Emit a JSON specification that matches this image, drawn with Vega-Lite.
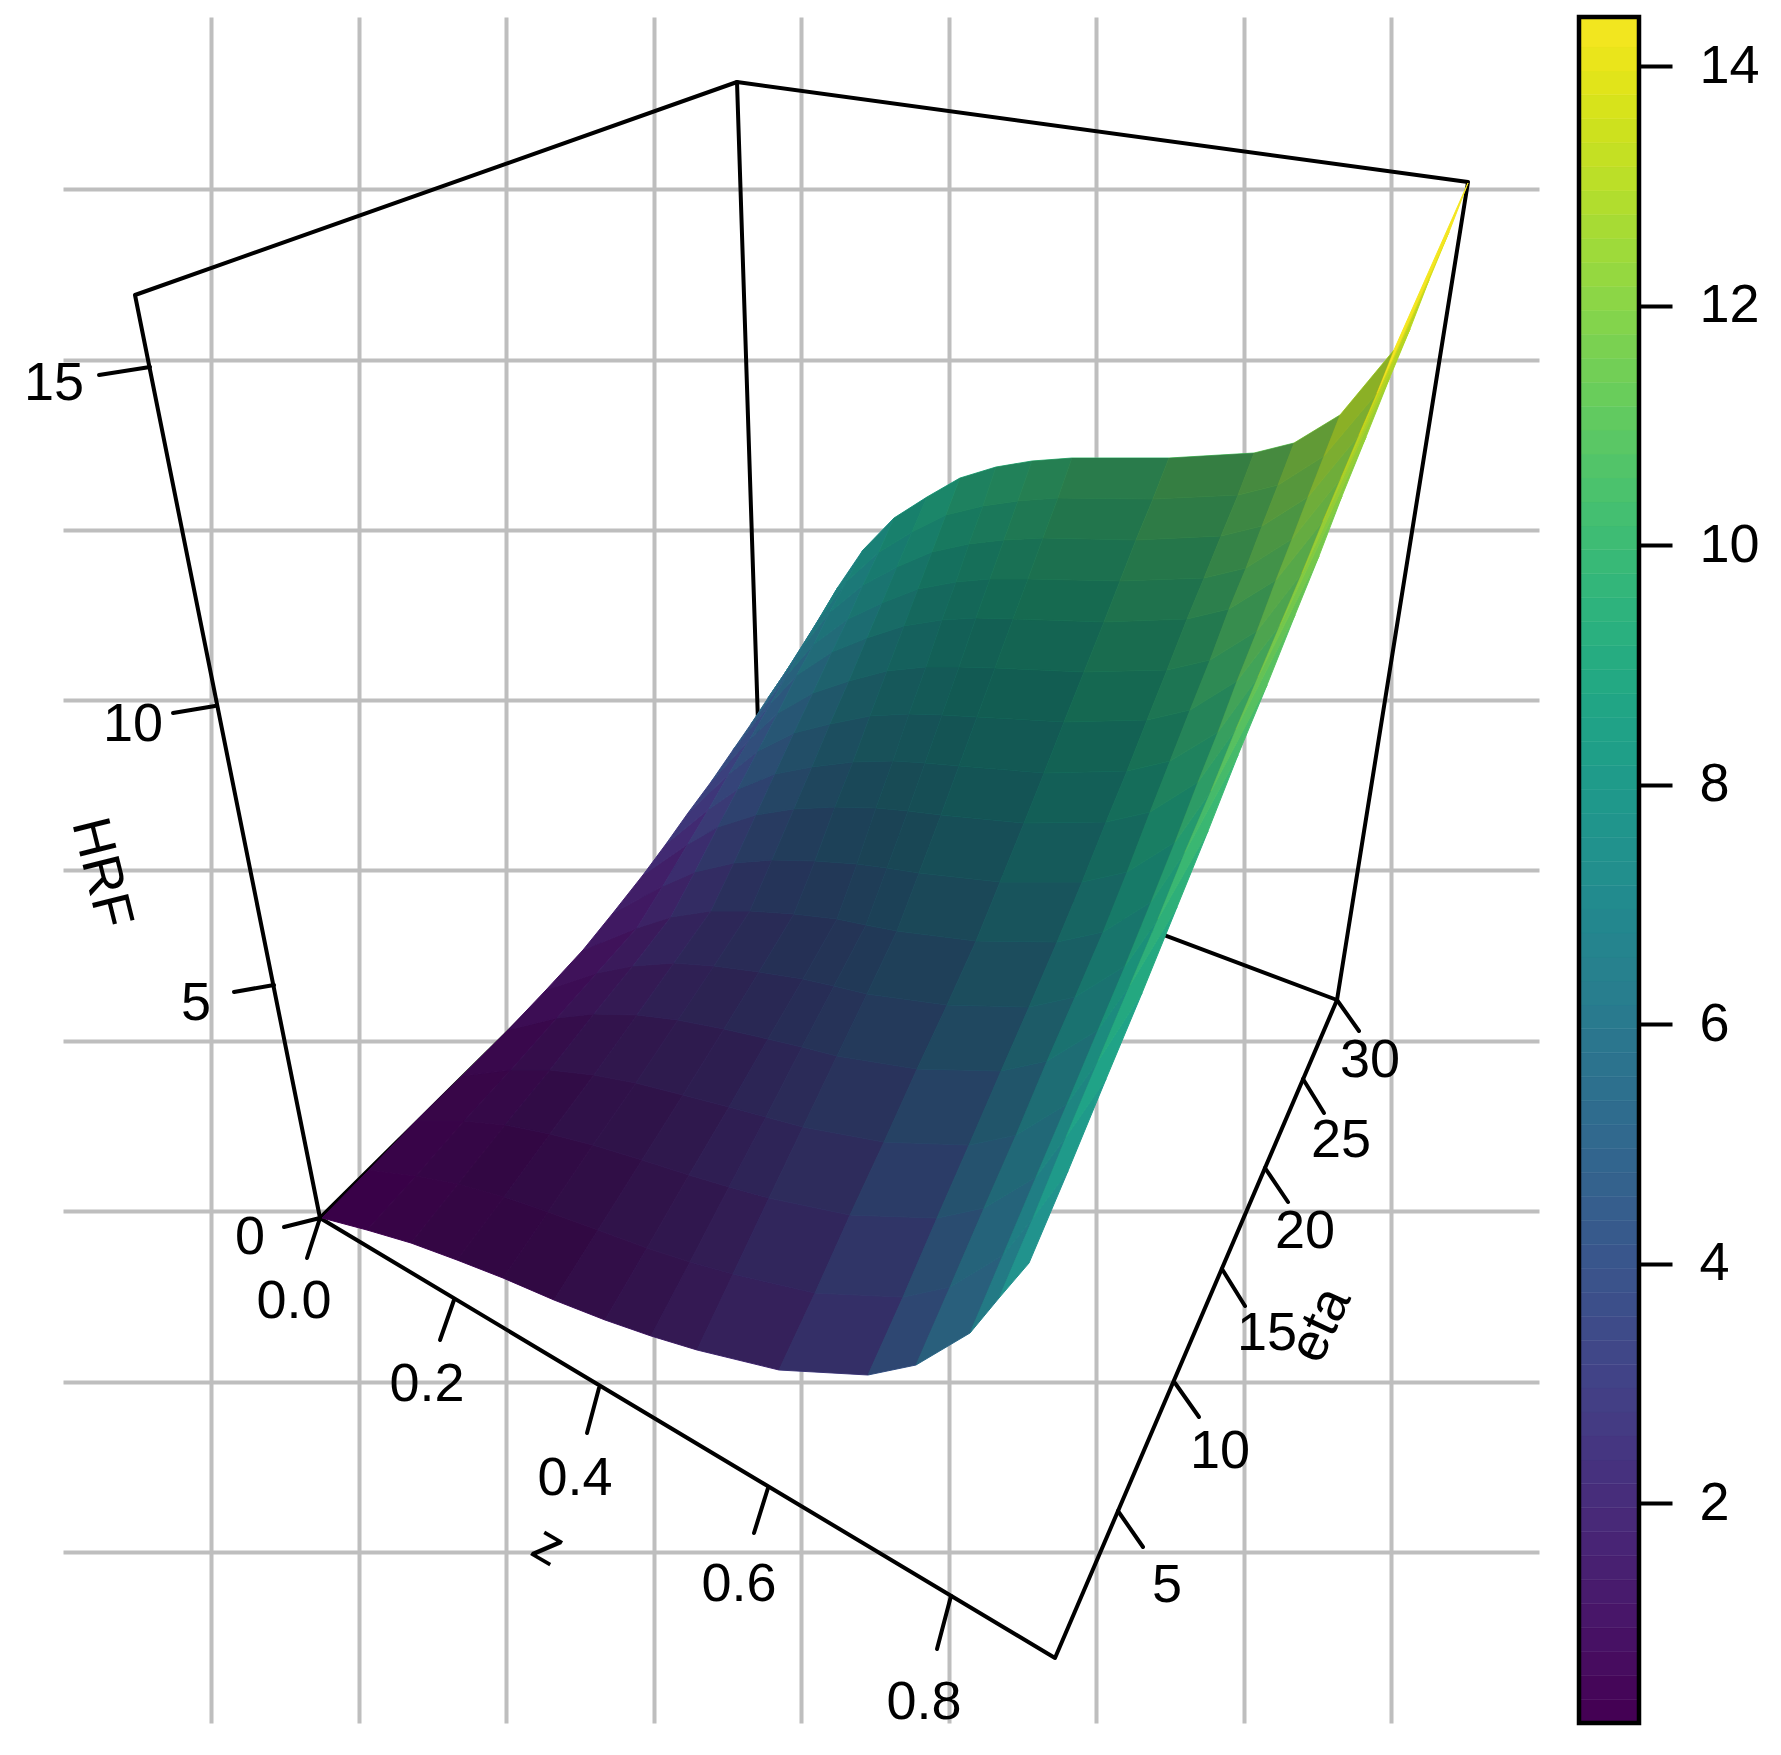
{"$schema":"https://vega.github.io/schema/vega-lite/v6.json","background":"white","padding":{"left":23,"top":14,"right":5,"bottom":5},"bounds":"flush","spacing":40,
"config":{"view":{"stroke":null}},
"datasets":{"quads":[
{"q":0,"h":0.2,"s":0.15,"x":[323,368,417,370],"y":[1218,1230,1176,1170]},
{"q":1,"h":0.3,"s":0.18,"x":[370,417,465,417],"y":[1170,1176,1121,1121]},
{"q":2,"h":0.4,"s":0.2,"x":[417,465,512,463],"y":[1121,1121,1070,1076]},
{"q":3,"h":0.5,"s":0.18,"x":[463,512,558,509],"y":[1076,1070,1018,1030]},
{"q":4,"h":0.7,"s":0.15,"x":[509,558,598,547],"y":[1030,1018,973,990]},
{"q":5,"h":0.9,"s":0.12,"x":[547,598,638,584],"y":[990,973,928,950]},
{"q":6,"h":1.2,"s":0.1,"x":[584,638,664,614],"y":[950,928,886,913]},
{"q":7,"h":1.5,"s":0.09,"x":[614,664,689,644],"y":[913,886,844,875]},
{"q":8,"h":2,"s":0.08,"x":[644,689,710,667],"y":[875,844,809,844]},
{"q":9,"h":2.6,"s":0.08,"x":[667,710,730,689],"y":[844,809,774,813]},
{"q":10,"h":3.1,"s":0.08,"x":[689,730,751,712],"y":[813,774,739,782]},
{"q":11,"h":3.7,"s":0.08,"x":[712,751,772,734],"y":[782,739,703,750]},
{"q":12,"h":4.3,"s":0.08,"x":[734,772,789,752],"y":[750,703,674,724]},
{"q":13,"h":5,"s":0.08,"x":[752,789,805,769],"y":[724,674,645,698]},
{"q":14,"h":5.6,"s":0.08,"x":[769,805,822,786],"y":[698,645,616,673]},
{"q":15,"h":6.2,"s":0.08,"x":[786,822,839,803],"y":[673,616,587,647]},
{"q":16,"h":0.3,"s":0.2,"x":[368,412,459,417],"y":[1230,1243,1184,1176]},
{"q":17,"h":0.4,"s":0.23,"x":[417,459,506,465],"y":[1176,1184,1125,1121]},
{"q":18,"h":0.6,"s":0.25,"x":[465,506,551,512],"y":[1121,1125,1070,1070]},
{"q":19,"h":0.8,"s":0.25,"x":[512,551,595,558],"y":[1070,1070,1014,1018]},
{"q":20,"h":1.1,"s":0.22,"x":[558,595,634,598],"y":[1018,1014,966,973]},
{"q":21,"h":1.4,"s":0.19,"x":[598,634,672,638],"y":[973,966,917,928]},
{"q":22,"h":1.8,"s":0.16,"x":[638,672,696,664],"y":[928,917,872,886]},
{"q":23,"h":2.3,"s":0.14,"x":[664,696,719,689],"y":[886,872,827,844]},
{"q":24,"h":2.9,"s":0.12,"x":[689,719,739,710],"y":[844,827,789,809]},
{"q":25,"h":3.5,"s":0.12,"x":[710,739,759,730],"y":[809,789,751,774]},
{"q":26,"h":4.1,"s":0.12,"x":[730,759,779,751],"y":[774,751,713,739]},
{"q":27,"h":4.7,"s":0.12,"x":[751,779,798,772],"y":[739,713,675,703]},
{"q":28,"h":5.3,"s":0.12,"x":[772,798,815,789],"y":[703,675,644,674]},
{"q":29,"h":6,"s":0.12,"x":[789,815,831,805],"y":[674,644,612,645]},
{"q":30,"h":6.6,"s":0.12,"x":[805,831,848,822],"y":[645,612,581,616]},
{"q":31,"h":7.2,"s":0.12,"x":[822,848,864,839],"y":[616,581,550,587]},
{"q":32,"h":0.4,"s":0.25,"x":[412,458,505,459],"y":[1243,1260,1197,1184]},
{"q":33,"h":0.5,"s":0.28,"x":[459,505,551,506],"y":[1184,1197,1134,1125]},
{"q":34,"h":0.8,"s":0.3,"x":[506,551,595,551],"y":[1125,1134,1075,1070]},
{"q":35,"h":1.2,"s":0.3,"x":[551,595,638,595],"y":[1070,1075,1015,1014]},
{"q":36,"h":1.6,"s":0.28,"x":[595,638,675,634],"y":[1014,1015,963,966]},
{"q":37,"h":2.1,"s":0.27,"x":[634,675,712,672],"y":[966,963,911,917]},
{"q":38,"h":2.6,"s":0.25,"x":[672,712,735,696],"y":[917,911,863,872]},
{"q":39,"h":3.2,"s":0.23,"x":[696,735,757,719],"y":[872,863,815,827]},
{"q":40,"h":3.8,"s":0.2,"x":[719,757,776,739],"y":[827,815,774,789]},
{"q":41,"h":4.4,"s":0.19,"x":[739,776,795,759],"y":[789,774,733,751]},
{"q":42,"h":5,"s":0.18,"x":[759,795,814,779],"y":[751,733,693,713]},
{"q":43,"h":5.6,"s":0.17,"x":[779,814,833,798],"y":[713,693,652,675]},
{"q":44,"h":6.2,"s":0.15,"x":[798,833,849,815],"y":[675,652,619,644]},
{"q":45,"h":6.7,"s":0.15,"x":[815,849,864,831],"y":[644,619,585,612]},
{"q":46,"h":7.2,"s":0.15,"x":[831,864,880,848],"y":[612,585,552,581]},
{"q":47,"h":7.7,"s":0.15,"x":[848,880,895,864],"y":[581,552,518,550]},
{"q":48,"h":0.5,"s":0.28,"x":[458,504,549,505],"y":[1260,1278,1212,1197]},
{"q":49,"h":0.7,"s":0.3,"x":[505,549,594,551],"y":[1197,1212,1145,1134]},
{"q":50,"h":1.1,"s":0.32,"x":[551,594,637,595],"y":[1134,1145,1083,1075]},
{"q":51,"h":1.5,"s":0.33,"x":[595,637,679,638],"y":[1075,1083,1020,1015]},
{"q":52,"h":2.1,"s":0.33,"x":[638,679,715,675],"y":[1015,1020,966,963]},
{"q":53,"h":2.6,"s":0.33,"x":[675,715,751,712],"y":[963,966,911,911]},
{"q":54,"h":3.2,"s":0.32,"x":[712,751,773,735],"y":[911,911,860,863]},
{"q":55,"h":3.9,"s":0.3,"x":[735,773,795,757],"y":[863,860,809,815]},
{"q":56,"h":4.5,"s":0.28,"x":[757,795,813,776],"y":[815,809,767,774]},
{"q":57,"h":5.1,"s":0.27,"x":[776,813,831,795],"y":[774,767,724,733]},
{"q":58,"h":5.7,"s":0.25,"x":[795,831,850,814],"y":[733,724,681,693]},
{"q":59,"h":6.3,"s":0.23,"x":[814,850,868,833],"y":[693,681,638,652]},
{"q":60,"h":6.8,"s":0.2,"x":[833,868,883,849],"y":[652,638,603,619]},
{"q":61,"h":7.3,"s":0.2,"x":[849,883,898,864],"y":[619,603,567,585]},
{"q":62,"h":7.8,"s":0.2,"x":[864,898,913,880],"y":[585,567,532,552]},
{"q":63,"h":8.3,"s":0.2,"x":[880,913,928,895],"y":[552,532,497,518]},
{"q":64,"h":0.6,"s":0.3,"x":[504,555,599,549],"y":[1278,1300,1230,1212]},
{"q":65,"h":0.9,"s":0.32,"x":[549,599,643,594],"y":[1212,1230,1160,1145]},
{"q":66,"h":1.3,"s":0.34,"x":[594,643,684,637],"y":[1145,1160,1095,1083]},
{"q":67,"h":1.8,"s":0.35,"x":[637,684,725,679],"y":[1083,1095,1029,1020]},
{"q":68,"h":2.4,"s":0.36,"x":[679,725,760,715],"y":[1020,1029,972,966]},
{"q":69,"h":3,"s":0.36,"x":[715,760,795,751],"y":[966,972,914,911]},
{"q":70,"h":3.7,"s":0.36,"x":[751,795,816,773],"y":[911,914,861,860]},
{"q":71,"h":4.4,"s":0.35,"x":[773,816,836,795],"y":[860,861,807,809]},
{"q":72,"h":5.1,"s":0.34,"x":[795,836,854,813],"y":[809,807,762,767]},
{"q":73,"h":5.7,"s":0.33,"x":[813,854,871,831],"y":[767,762,716,724]},
{"q":74,"h":6.3,"s":0.32,"x":[831,871,888,850],"y":[724,716,671,681]},
{"q":75,"h":6.9,"s":0.3,"x":[850,888,905,868],"y":[681,671,626,638]},
{"q":76,"h":7.4,"s":0.27,"x":[868,905,919,883],"y":[638,626,589,603]},
{"q":77,"h":7.9,"s":0.25,"x":[883,919,933,898],"y":[603,589,552,567]},
{"q":78,"h":8.3,"s":0.22,"x":[898,933,947,913],"y":[567,552,515,532]},
{"q":79,"h":8.7,"s":0.2,"x":[913,947,961,928],"y":[532,515,478,497]},
{"q":80,"h":0.9,"s":0.3,"x":[555,606,648,599],"y":[1300,1320,1248,1230]},
{"q":81,"h":1.2,"s":0.32,"x":[599,648,690,643],"y":[1230,1248,1175,1160]},
{"q":82,"h":1.6,"s":0.34,"x":[643,690,730,684],"y":[1160,1175,1107,1095]},
{"q":83,"h":2.1,"s":0.36,"x":[684,730,769,725],"y":[1095,1107,1039,1029]},
{"q":84,"h":2.8,"s":0.37,"x":[725,769,804,760],"y":[1029,1039,979,972]},
{"q":85,"h":3.5,"s":0.38,"x":[760,804,838,795],"y":[972,979,919,914]},
{"q":86,"h":4.2,"s":0.38,"x":[795,838,858,816],"y":[914,919,864,861]},
{"q":87,"h":5,"s":0.38,"x":[816,858,877,836],"y":[861,864,808,807]},
{"q":88,"h":5.7,"s":0.38,"x":[836,877,894,854],"y":[807,808,761,762]},
{"q":89,"h":6.3,"s":0.37,"x":[854,894,910,871],"y":[762,761,714,716]},
{"q":90,"h":6.9,"s":0.36,"x":[871,910,927,888],"y":[716,714,667,671]},
{"q":91,"h":7.4,"s":0.34,"x":[888,927,943,905],"y":[671,667,620,626]},
{"q":92,"h":7.9,"s":0.32,"x":[905,943,957,919],"y":[626,620,582,589]},
{"q":93,"h":8.3,"s":0.3,"x":[919,957,970,933],"y":[589,582,544,552]},
{"q":94,"h":8.7,"s":0.28,"x":[933,970,984,947],"y":[552,544,506,515]},
{"q":95,"h":9.1,"s":0.26,"x":[947,984,997,961],"y":[515,506,467,478]},
{"q":96,"h":1.2,"s":0.3,"x":[606,652,691,648],"y":[1320,1336,1262,1248]},
{"q":97,"h":1.5,"s":0.32,"x":[648,691,730,690],"y":[1248,1262,1187,1175]},
{"q":98,"h":2,"s":0.33,"x":[690,730,767,730],"y":[1175,1187,1117,1107]},
{"q":99,"h":2.5,"s":0.35,"x":[730,767,803,769],"y":[1107,1117,1047,1039]},
{"q":100,"h":3.2,"s":0.37,"x":[769,803,835,804],"y":[1039,1047,986,979]},
{"q":101,"h":3.9,"s":0.38,"x":[804,835,867,838],"y":[979,986,925,919]},
{"q":102,"h":4.7,"s":0.39,"x":[838,867,888,858],"y":[919,925,868,864]},
{"q":103,"h":5.4,"s":0.4,"x":[858,888,909,877],"y":[864,868,811,808]},
{"q":104,"h":6.1,"s":0.4,"x":[877,909,926,894],"y":[808,811,763,761]},
{"q":105,"h":6.7,"s":0.39,"x":[894,926,943,910],"y":[761,763,715,714]},
{"q":106,"h":7.3,"s":0.38,"x":[910,943,960,927],"y":[714,715,667,667]},
{"q":107,"h":7.8,"s":0.37,"x":[927,960,977,943],"y":[667,667,618,620]},
{"q":108,"h":8.2,"s":0.35,"x":[943,977,991,957],"y":[620,618,579,582]},
{"q":109,"h":8.6,"s":0.33,"x":[957,991,1005,970],"y":[582,579,540,544]},
{"q":110,"h":9,"s":0.3,"x":[970,1005,1019,984],"y":[544,540,501,506]},
{"q":111,"h":9.4,"s":0.28,"x":[984,1019,1033,997],"y":[506,501,461,467]},
{"q":112,"h":1.5,"s":0.28,"x":[652,698,734,691],"y":[1336,1350,1274,1262]},
{"q":113,"h":1.8,"s":0.3,"x":[691,734,770,730],"y":[1262,1274,1198,1187]},
{"q":114,"h":2.3,"s":0.32,"x":[730,770,804,767],"y":[1187,1198,1127,1117]},
{"q":115,"h":2.9,"s":0.34,"x":[767,804,838,803],"y":[1117,1127,1056,1047]},
{"q":116,"h":3.6,"s":0.36,"x":[803,838,868,835],"y":[1047,1056,994,986]},
{"q":117,"h":4.3,"s":0.38,"x":[835,868,898,867],"y":[986,994,931,925]},
{"q":118,"h":5.1,"s":0.39,"x":[867,898,920,888],"y":[925,931,873,868]},
{"q":119,"h":5.8,"s":0.4,"x":[888,920,942,909],"y":[868,873,815,811]},
{"q":120,"h":6.5,"s":0.4,"x":[909,942,960,926],"y":[811,815,766,763]},
{"q":121,"h":7.1,"s":0.4,"x":[926,960,978,943],"y":[763,766,717,715]},
{"q":122,"h":7.7,"s":0.4,"x":[943,978,996,960],"y":[715,717,668,667]},
{"q":123,"h":8.1,"s":0.39,"x":[960,996,1014,977],"y":[667,668,619,618]},
{"q":124,"h":8.6,"s":0.37,"x":[977,1014,1029,991],"y":[618,619,579,579]},
{"q":125,"h":9,"s":0.35,"x":[991,1029,1044,1005],"y":[579,579,538,540]},
{"q":126,"h":9.4,"s":0.33,"x":[1005,1044,1059,1019],"y":[540,538,498,501]},
{"q":127,"h":9.7,"s":0.31,"x":[1019,1059,1073,1033],"y":[501,498,458,461]},
{"q":128,"h":1.9,"s":0.25,"x":[698,780,816,734],"y":[1350,1370,1293,1274]},
{"q":129,"h":2.3,"s":0.28,"x":[734,816,851,770],"y":[1274,1293,1215,1198]},
{"q":130,"h":2.8,"s":0.3,"x":[770,851,885,804],"y":[1198,1215,1142,1127]},
{"q":131,"h":3.4,"s":0.33,"x":[804,885,918,838],"y":[1127,1142,1069,1056]},
{"q":132,"h":4.1,"s":0.35,"x":[838,918,948,868],"y":[1056,1069,1005,994]},
{"q":133,"h":4.8,"s":0.37,"x":[868,948,977,898],"y":[994,1005,941,931]},
{"q":134,"h":5.6,"s":0.38,"x":[898,977,1001,920],"y":[931,941,882,873]},
{"q":135,"h":6.3,"s":0.39,"x":[920,1001,1025,942],"y":[873,882,823,815]},
{"q":136,"h":7,"s":0.4,"x":[942,1025,1045,960],"y":[815,823,773,766]},
{"q":137,"h":7.5,"s":0.4,"x":[960,1045,1065,978],"y":[766,773,722,717]},
{"q":138,"h":8,"s":0.4,"x":[978,1065,1085,996],"y":[717,722,672,668]},
{"q":139,"h":8.5,"s":0.39,"x":[996,1085,1105,1014],"y":[668,672,622,619]},
{"q":140,"h":8.9,"s":0.38,"x":[1014,1105,1121,1029],"y":[619,622,581,579]},
{"q":141,"h":9.3,"s":0.37,"x":[1029,1121,1137,1044],"y":[579,581,540,538]},
{"q":142,"h":9.7,"s":0.36,"x":[1044,1137,1154,1059],"y":[538,540,499,498]},
{"q":143,"h":10,"s":0.35,"x":[1059,1154,1170,1073],"y":[498,499,458,458]},
{"q":144,"h":2.7,"s":0.22,"x":[780,869,904,816],"y":[1370,1375,1297,1293]},
{"q":145,"h":3.1,"s":0.24,"x":[816,904,938,851],"y":[1293,1297,1218,1215]},
{"q":146,"h":3.7,"s":0.26,"x":[851,938,970,885],"y":[1215,1218,1145,1142]},
{"q":147,"h":4.3,"s":0.29,"x":[885,970,1002,918],"y":[1142,1145,1071,1069]},
{"q":148,"h":5,"s":0.32,"x":[918,1002,1030,948],"y":[1069,1071,1007,1005]},
{"q":149,"h":5.7,"s":0.34,"x":[948,1030,1058,977],"y":[1005,1007,942,941]},
{"q":150,"h":6.4,"s":0.35,"x":[977,1058,1083,1001],"y":[941,942,882,882]},
{"q":151,"h":7.1,"s":0.36,"x":[1001,1083,1107,1025],"y":[882,882,822,823]},
{"q":152,"h":7.7,"s":0.37,"x":[1025,1107,1128,1045],"y":[823,822,771,773]},
{"q":153,"h":8.2,"s":0.38,"x":[1045,1128,1148,1065],"y":[773,771,720,722]},
{"q":154,"h":8.7,"s":0.38,"x":[1065,1148,1168,1085],"y":[722,720,670,672]},
{"q":155,"h":9.1,"s":0.38,"x":[1085,1168,1188,1105],"y":[672,670,619,622]},
{"q":156,"h":9.5,"s":0.37,"x":[1105,1188,1205,1121],"y":[622,619,578,581]},
{"q":157,"h":9.9,"s":0.37,"x":[1121,1205,1222,1137],"y":[581,578,536,540]},
{"q":158,"h":10.3,"s":0.36,"x":[1137,1222,1239,1154],"y":[540,536,495,499]},
{"q":159,"h":10.6,"s":0.36,"x":[1154,1239,1255,1170],"y":[499,495,453,458]},
{"q":160,"h":4,"s":0.18,"x":[869,917,951,904],"y":[1375,1365,1287,1297]},
{"q":161,"h":4.4,"s":0.2,"x":[904,951,985,938],"y":[1297,1287,1208,1218]},
{"q":162,"h":5,"s":0.22,"x":[938,985,1017,970],"y":[1218,1208,1135,1145]},
{"q":163,"h":5.5,"s":0.25,"x":[970,1017,1048,1002],"y":[1145,1135,1061,1071]},
{"q":164,"h":6.1,"s":0.27,"x":[1002,1048,1076,1030],"y":[1071,1061,997,1007]},
{"q":165,"h":6.7,"s":0.29,"x":[1030,1076,1104,1058],"y":[1007,997,932,942]},
{"q":166,"h":7.3,"s":0.3,"x":[1058,1104,1128,1083],"y":[942,932,872,882]},
{"q":167,"h":7.9,"s":0.32,"x":[1083,1128,1151,1107],"y":[882,872,812,822]},
{"q":168,"h":8.4,"s":0.33,"x":[1107,1151,1171,1128],"y":[822,812,761,771]},
{"q":169,"h":8.9,"s":0.34,"x":[1128,1171,1191,1148],"y":[771,761,710,720]},
{"q":170,"h":9.3,"s":0.34,"x":[1148,1191,1211,1168],"y":[720,710,660,670]},
{"q":171,"h":9.7,"s":0.34,"x":[1168,1211,1230,1188],"y":[670,660,609,619]},
{"q":172,"h":10.1,"s":0.33,"x":[1188,1230,1247,1205],"y":[619,609,568,578]},
{"q":173,"h":10.5,"s":0.33,"x":[1205,1247,1263,1222],"y":[578,568,526,536]},
{"q":174,"h":10.8,"s":0.32,"x":[1222,1263,1279,1239],"y":[536,526,485,495]},
{"q":175,"h":11.1,"s":0.32,"x":[1239,1279,1295,1255],"y":[495,485,443,453]},
{"q":176,"h":5.2,"s":0.12,"x":[917,971,1004,951],"y":[1365,1333,1255,1287]},
{"q":177,"h":5.6,"s":0.14,"x":[951,1004,1037,985],"y":[1287,1255,1177,1208]},
{"q":178,"h":6.1,"s":0.16,"x":[985,1037,1068,1017],"y":[1208,1177,1104,1135]},
{"q":179,"h":6.6,"s":0.18,"x":[1017,1068,1099,1048],"y":[1135,1104,1030,1061]},
{"q":180,"h":7.2,"s":0.2,"x":[1048,1099,1126,1076],"y":[1061,1030,966,997]},
{"q":181,"h":7.7,"s":0.22,"x":[1076,1126,1152,1104],"y":[997,966,902,932]},
{"q":182,"h":8.2,"s":0.23,"x":[1104,1152,1176,1128],"y":[932,902,842,872]},
{"q":183,"h":8.7,"s":0.25,"x":[1128,1176,1199,1151],"y":[872,842,782,812]},
{"q":184,"h":9.2,"s":0.26,"x":[1151,1199,1219,1171],"y":[812,782,732,761]},
{"q":185,"h":9.6,"s":0.27,"x":[1171,1219,1238,1191],"y":[761,732,681,710]},
{"q":186,"h":10,"s":0.27,"x":[1191,1238,1258,1211],"y":[710,681,631,660]},
{"q":187,"h":10.4,"s":0.27,"x":[1211,1258,1277,1230],"y":[660,631,580,609]},
{"q":188,"h":10.8,"s":0.27,"x":[1230,1277,1293,1247],"y":[609,580,539,568]},
{"q":189,"h":11.1,"s":0.27,"x":[1247,1293,1309,1263],"y":[568,539,497,526]},
{"q":190,"h":11.5,"s":0.27,"x":[1263,1309,1325,1279],"y":[526,497,456,485]},
{"q":191,"h":11.8,"s":0.27,"x":[1279,1325,1341,1295],"y":[485,456,415,443]},
{"q":192,"h":6.4,"s":0.06,"x":[971,1000,1034,1004],"y":[1333,1298,1218,1255]},
{"q":193,"h":6.8,"s":0.07,"x":[1004,1034,1067,1037],"y":[1255,1218,1137,1177]},
{"q":194,"h":7.3,"s":0.08,"x":[1037,1067,1099,1068],"y":[1177,1137,1061,1104]},
{"q":195,"h":7.8,"s":0.09,"x":[1068,1099,1131,1099],"y":[1104,1061,985,1030]},
{"q":196,"h":8.3,"s":0.1,"x":[1099,1131,1159,1126],"y":[1030,985,919,966]},
{"q":197,"h":8.8,"s":0.12,"x":[1126,1159,1186,1152],"y":[966,919,852,902]},
{"q":198,"h":9.2,"s":0.13,"x":[1152,1186,1212,1176],"y":[902,852,791,842]},
{"q":199,"h":9.7,"s":0.15,"x":[1176,1212,1237,1199],"y":[842,791,729,782]},
{"q":200,"h":10.1,"s":0.16,"x":[1199,1237,1259,1219],"y":[782,729,677,732]},
{"q":201,"h":10.5,"s":0.17,"x":[1219,1259,1281,1238],"y":[732,677,625,681]},
{"q":202,"h":10.9,"s":0.18,"x":[1238,1281,1303,1258],"y":[681,625,573,631]},
{"q":203,"h":11.2,"s":0.18,"x":[1258,1303,1324,1277],"y":[631,573,521,580]},
{"q":204,"h":11.6,"s":0.18,"x":[1277,1324,1342,1293],"y":[580,521,478,539]},
{"q":205,"h":11.9,"s":0.19,"x":[1293,1342,1360,1309],"y":[539,478,435,497]},
{"q":206,"h":12.3,"s":0.2,"x":[1309,1360,1378,1325],"y":[497,435,393,456]},
{"q":207,"h":12.7,"s":0.2,"x":[1325,1378,1395,1341],"y":[456,393,350,415]},
{"q":208,"h":7.4,"s":0,"x":[1000,1030,1069,1034],"y":[1298,1263,1171,1218]},
{"q":209,"h":7.9,"s":0,"x":[1034,1069,1107,1067],"y":[1218,1171,1079,1137]},
{"q":210,"h":8.4,"s":0,"x":[1067,1107,1143,1099],"y":[1137,1079,993,1061]},
{"q":211,"h":8.9,"s":0.01,"x":[1099,1143,1178,1131],"y":[1061,993,907,985]},
{"q":212,"h":9.4,"s":0.02,"x":[1131,1178,1209,1159],"y":[985,907,831,919]},
{"q":213,"h":9.9,"s":0.02,"x":[1159,1209,1239,1186],"y":[919,831,755,852]},
{"q":214,"h":10.3,"s":0.03,"x":[1186,1239,1268,1212],"y":[852,755,685,791]},
{"q":215,"h":10.8,"s":0.04,"x":[1212,1268,1296,1237],"y":[791,685,615,729]},
{"q":216,"h":11.2,"s":0.05,"x":[1237,1296,1320,1259],"y":[729,615,556,677]},
{"q":217,"h":11.6,"s":0.05,"x":[1259,1320,1343,1281],"y":[677,556,496,625]},
{"q":218,"h":12,"s":0.06,"x":[1281,1343,1367,1303],"y":[625,496,437,573]},
{"q":219,"h":12.4,"s":0.06,"x":[1303,1367,1391,1324],"y":[573,437,377,521]},
{"q":220,"h":12.8,"s":0.06,"x":[1324,1391,1411,1342],"y":[521,377,329,478]},
{"q":221,"h":13.1,"s":0.05,"x":[1342,1411,1430,1360],"y":[478,329,280,435]},
{"q":222,"h":13.6,"s":0.03,"x":[1360,1430,1450,1378],"y":[435,280,232,393]},
{"q":223,"h":14.2,"s":0,"x":[1378,1450,1469,1395],"y":[393,232,183,350]}
],
"frame":[
{"k":"box","x":321,"y":1218},{"k":"box","x":136,"y":295},{"k":"box","x":738,"y":82},{"k":"box","x":1469,"y":182},{"k":"box","x":1338,"y":1000},{"k":"box","x":1056,"y":1658},{"k":"box","x":321,"y":1218},
{"k":"back","x":738,"y":82},{"k":"back","x":761,"y":783},{"k":"back","x":1338,"y":1000},
{"k":"floor","x":321,"y":1218},{"k":"floor","x":761,"y":783},
{"k":"z0","x":321,"y":1218},{"k":"z0","x":308,"y":1258},
{"k":"z2","x":455,"y":1300},{"k":"z2","x":441,"y":1340},
{"k":"z4","x":600,"y":1388},{"k":"z4","x":588,"y":1433},
{"k":"z6","x":769,"y":1488},{"k":"z6","x":755,"y":1533},
{"k":"z8","x":952,"y":1596},{"k":"z8","x":938,"y":1649},
{"k":"h0","x":321,"y":1218},{"k":"h0","x":285,"y":1227},
{"k":"h5","x":275,"y":985},{"k":"h5","x":235,"y":992},
{"k":"h10","x":216,"y":706},{"k":"h10","x":174,"y":713},
{"k":"h15","x":151,"y":367},{"k":"h15","x":100,"y":375},
{"k":"e5","x":1119,"y":1511},{"k":"e5","x":1144,"y":1547},
{"k":"e10","x":1176,"y":1383},{"k":"e10","x":1200,"y":1417},
{"k":"e15","x":1223,"y":1269},{"k":"e15","x":1246,"y":1306},
{"k":"e20","x":1266,"y":1168},{"k":"e20","x":1289,"y":1202},
{"k":"e25","x":1304,"y":1079},{"k":"e25","x":1325,"y":1113},
{"k":"e30","x":1338,"y":1000},{"k":"e30","x":1360,"y":1031}
],
"labels":[
{"t":"0.0","x":295,"y":1302},{"t":"0.2","x":428,"y":1385},{"t":"0.4","x":576,"y":1479},{"t":"0.6","x":740,"y":1585},{"t":"0.8","x":925,"y":1703},
{"t":"0","x":251,"y":1238},{"t":"5","x":197,"y":1004},{"t":"10","x":134,"y":725},{"t":"15","x":55,"y":384},
{"t":"5","x":1168,"y":1586},{"t":"10","x":1221,"y":1452},{"t":"15","x":1268,"y":1334},{"t":"20","x":1306,"y":1232},{"t":"25","x":1342,"y":1141},{"t":"30","x":1371,"y":1061}
],
"bar":[
{"lo":0.16,"hi":0.36},{"lo":0.36,"hi":0.56},{"lo":0.56,"hi":0.76},{"lo":0.76,"hi":0.96},{"lo":0.96,"hi":1.16},{"lo":1.16,"hi":1.36},{"lo":1.36,"hi":1.56},{"lo":1.56,"hi":1.76},{"lo":1.76,"hi":1.96},{"lo":1.96,"hi":2.16},
{"lo":2.16,"hi":2.36},{"lo":2.36,"hi":2.56},{"lo":2.56,"hi":2.76},{"lo":2.76,"hi":2.96},{"lo":2.96,"hi":3.16},{"lo":3.16,"hi":3.36},{"lo":3.36,"hi":3.56},{"lo":3.56,"hi":3.76},{"lo":3.76,"hi":3.96},{"lo":3.96,"hi":4.16},
{"lo":4.16,"hi":4.36},{"lo":4.36,"hi":4.56},{"lo":4.56,"hi":4.76},{"lo":4.76,"hi":4.96},{"lo":4.96,"hi":5.16},{"lo":5.16,"hi":5.36},{"lo":5.36,"hi":5.56},{"lo":5.56,"hi":5.76},{"lo":5.76,"hi":5.96},{"lo":5.96,"hi":6.16},
{"lo":6.16,"hi":6.36},{"lo":6.36,"hi":6.56},{"lo":6.56,"hi":6.76},{"lo":6.76,"hi":6.96},{"lo":6.96,"hi":7.16},{"lo":7.16,"hi":7.36},{"lo":7.36,"hi":7.56},{"lo":7.56,"hi":7.76},{"lo":7.76,"hi":7.96},{"lo":7.96,"hi":8.16},
{"lo":8.16,"hi":8.36},{"lo":8.36,"hi":8.56},{"lo":8.56,"hi":8.76},{"lo":8.76,"hi":8.96},{"lo":8.96,"hi":9.16},{"lo":9.16,"hi":9.36},{"lo":9.36,"hi":9.56},{"lo":9.56,"hi":9.76},{"lo":9.76,"hi":9.96},{"lo":9.96,"hi":10.16},
{"lo":10.16,"hi":10.36},{"lo":10.36,"hi":10.56},{"lo":10.56,"hi":10.76},{"lo":10.76,"hi":10.96},{"lo":10.96,"hi":11.16},{"lo":11.16,"hi":11.36},{"lo":11.36,"hi":11.56},{"lo":11.56,"hi":11.76},{"lo":11.76,"hi":11.96},{"lo":11.96,"hi":12.16},
{"lo":12.16,"hi":12.36},{"lo":12.36,"hi":12.56},{"lo":12.56,"hi":12.76},{"lo":12.76,"hi":12.96},{"lo":12.96,"hi":13.16},{"lo":13.16,"hi":13.36},{"lo":13.36,"hi":13.56},{"lo":13.56,"hi":13.76},{"lo":13.76,"hi":13.96},{"lo":13.96,"hi":14.16},{"lo":14.16,"hi":14.41}
]},
"hconcat":[
{"width":1476,"height":1706,
"encoding":{
"x":{"field":"x","type":"quantitative","scale":{"domain":[64,1540],"nice":false,"zero":false},"axis":{"title":null,"values":[212,359.5,507,654.5,802,949.5,1097,1244.5,1392],"grid":true,"gridColor":"#BEBEBE","gridWidth":4,"domain":false,"ticks":false,"labels":false}},
"y":{"field":"y","type":"quantitative","scale":{"domain":[1723,17],"nice":false,"zero":false},"axis":{"title":null,"values":[189,359.5,530,700,870,1041,1211,1382,1552],"grid":true,"gridColor":"#BEBEBE","gridWidth":4,"domain":false,"ticks":false,"labels":false}}
},
"layer":[
{"data":{"name":"frame"},"mark":{"type":"line","color":"black","strokeWidth":4,"strokeCap":"round","strokeJoin":"round"},"encoding":{"detail":{"field":"k"},"order":{"value":null}}},
{"data":{"name":"quads"},"transform":[{"flatten":["x","y"]}],"mark":{"type":"line","interpolate":"linear-closed","strokeWidth":1},"encoding":{"detail":{"field":"q"},"order":{"value":null},"fill":{"field":"h","type":"quantitative","scale":{"scheme":"viridis","domain":[0.16,14.41]},"legend":null},"stroke":{"field":"h","type":"quantitative","scale":{"scheme":"viridis","domain":[0.16,14.41]},"legend":null}}},
{"data":{"name":"quads"},"transform":[{"flatten":["x","y"]}],"mark":{"type":"line","interpolate":"linear-closed","fill":"black","strokeWidth":0},"encoding":{"detail":{"field":"q"},"order":{"value":null},"fillOpacity":{"field":"s","type":"quantitative","scale":{"domain":[0,1],"range":[0,1]},"legend":null}}},
{"data":{"name":"labels"},"mark":{"type":"text","fontSize":54,"font":"Liberation Sans","color":"black","align":"center","baseline":"middle"},"encoding":{"text":{"field":"t"}}},
{"data":{"values":[{"t":"HRF","x":102,"y":873}]},"mark":{"type":"text","fontSize":54,"font":"Liberation Sans","color":"black","align":"center","baseline":"middle","angle":76},"encoding":{"text":{"field":"t"}}},
{"data":{"values":[{"t":"z","x":549,"y":1547}]},"mark":{"type":"text","fontSize":54,"font":"Liberation Sans","color":"black","align":"center","baseline":"middle","angle":30},"encoding":{"text":{"field":"t"}}},
{"data":{"values":[{"t":"eta","x":1322,"y":1325}]},"mark":{"type":"text","fontSize":54,"font":"Liberation Sans","color":"black","align":"center","baseline":"middle","angle":295},"encoding":{"text":{"field":"t"}}}
]},
{"width":60,"height":1706,
"encoding":{"y":{"field":"lo","type":"quantitative","scale":{"domain":[0.163,14.41],"nice":false,"zero":false},"axis":{"orient":"right","title":null,"values":[2,4,6,8,10,12,14],"grid":false,"domain":false,"ticks":true,"tickColor":"black","tickSize":33,"tickWidth":4,"labelFontSize":54,"labelFont":"Liberation Sans","labelColor":"black","labelPadding":27,"labelBaseline":"middle"}},"y2":{"field":"hi"}},
"layer":[
{"data":{"name":"bar"},"mark":{"type":"rect","strokeWidth":0.5},"encoding":{"fill":{"field":"lo","type":"quantitative","scale":{"scheme":"viridis","domain":[0.16,14.41]},"legend":null},"stroke":{"field":"lo","type":"quantitative","scale":{"scheme":"viridis","domain":[0.16,14.41]},"legend":null}}},
{"data":{"values":[{"lo":0.163,"hi":14.41}]},"mark":{"type":"rect","fill":null,"stroke":"black","strokeWidth":4.5}}
]}
]}
